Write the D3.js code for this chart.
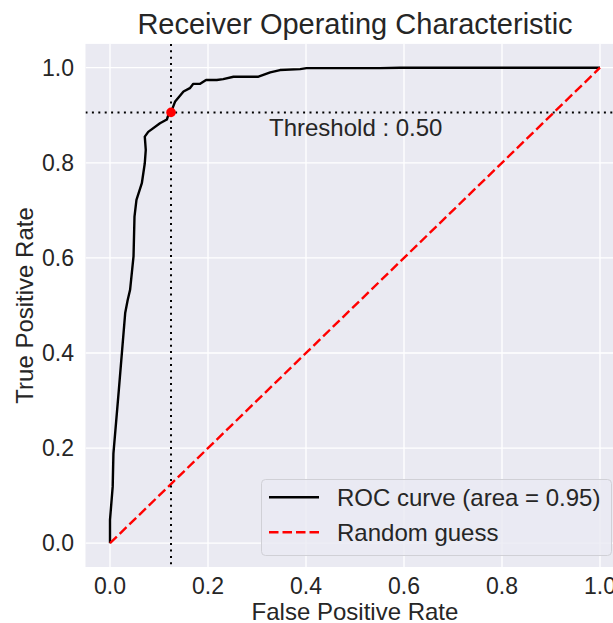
<!DOCTYPE html>
<html>
<head>
<meta charset="utf-8">
<script src="https://cdn.jsdelivr.net/npm/d3@7"></script>
<style>
  html, body { margin: 0; padding: 0; background: #fff; }
  svg { display: block; font-family: "Liberation Sans", Arial, sans-serif; }
</style>
</head>
<body>
<div id="chart"></div>
<script>
// ROC curve points
const fprValues = [0, 0, 0.0055, 0.007, 0.018, 0.031, 0.036, 0.041, 0.048, 0.050, 0.054, 0.065, 0.071, 0.073, 0.071,
  0.078, 0.102, 0.116, 0.119, 0.1245, 0.133, 0.150, 0.163, 0.170, 0.184, 0.196, 0.218, 0.231, 0.252, 0.303,
  0.327, 0.347, 0.388, 0.401, 0.551, 0.592, 0.80, 1.0];
const tprValues = [0, 0.049, 0.119, 0.189, 0.322, 0.484, 0.511, 0.533, 0.603, 0.687, 0.722, 0.757, 0.799, 0.827, 0.855,
  0.865, 0.883, 0.891, 0.900, 0.906, 0.929, 0.950, 0.957, 0.966, 0.966, 0.974, 0.974, 0.976, 0.981, 0.981,
  0.990, 0.995, 0.997, 0.999, 0.999, 1.0, 1.0, 1.0];
const randomX = [0, 1];
const randomY = [0, 1];
const thresholdPoint = [0.1245, 0.906];
const thresholdLabel = "Threshold : 0.50";
const xTicks = [0, 0.2, 0.4, 0.6, 0.8, 1.0];
const yTicks = [0, 0.2, 0.4, 0.6, 0.8, 1.0];
const seriesNames = ["ROC curve (area = 0.95)", "Random guess"];

const width = 613, height = 623;
const svg = d3.select("#chart").append("svg")
  .attr("width", width).attr("height", height);

const x = d3.scaleLinear().domain([-0.05, 1.05]).range([85.5, 624.5]);
const y = d3.scaleLinear().domain([-0.05, 1.05]).range([567, 43.9]);

svg.append("defs").append("clipPath").attr("id", "plotClip")
  .append("rect").attr("x", x(-0.05)).attr("y", y(1.05))
  .attr("width", x(1.05) - x(-0.05)).attr("height", y(-0.05) - y(1.05));

// background + grid
svg.append("rect")
  .attr("x", x(-0.05)).attr("y", y(1.05))
  .attr("width", x(1.05) - x(-0.05)).attr("height", y(-0.05) - y(1.05))
  .attr("fill", "#eaeaf2");

const grid = svg.append("g").attr("clip-path", "url(#plotClip)");
grid.selectAll(".vg").data(xTicks).enter().append("line")
  .attr("x1", d => x(d)).attr("x2", d => x(d))
  .attr("y1", y(1.05)).attr("y2", y(-0.05))
  .attr("stroke", "#fff").attr("stroke-width", 1.3);
grid.selectAll(".hg").data(yTicks).enter().append("line")
  .attr("y1", d => y(d)).attr("y2", d => y(d))
  .attr("x1", x(-0.05)).attr("x2", x(1.05))
  .attr("stroke", "#fff").attr("stroke-width", 1.3);

// tick labels
svg.append("g").selectAll("text").data(xTicks).enter().append("text")
  .attr("x", d => x(d)).attr("y", 594)
  .attr("text-anchor", "middle").attr("font-size", 23).attr("fill", "#262626")
  .text(d => d3.format(".1f")(d));
svg.append("g").selectAll("text").data(yTicks).enter().append("text")
  .attr("x", 74).attr("y", d => y(d) + 8.2)
  .attr("text-anchor", "end").attr("font-size", 23).attr("fill", "#262626")
  .text(d => d3.format(".1f")(d));

// axis labels + title
svg.append("text").attr("x", x(0.5)).attr("y", 620)
  .attr("text-anchor", "middle").attr("font-size", 24).attr("fill", "#262626")
  .text("False Positive Rate");
svg.append("text").attr("transform", `translate(33,${(y(-0.05) + y(1.05)) / 2}) rotate(-90)`)
  .attr("text-anchor", "middle").attr("font-size", 24).attr("fill", "#262626")
  .text("True Positive Rate");
svg.append("text").attr("x", x(0.5)).attr("y", 34)
  .attr("text-anchor", "middle").attr("font-size", 29).attr("fill", "#262626")
  .text("Receiver Operating Characteristic");

const plot = svg.append("g").attr("clip-path", "url(#plotClip)");

const line = d3.line().x(d => x(d[0])).y(d => y(d[1]));

// ROC curve
plot.append("path")
  .datum(d3.zip(fprValues, tprValues))
  .attr("d", line).attr("fill", "none")
  .attr("stroke", "#000").attr("stroke-width", 2.4).attr("stroke-linejoin", "round");

// random guess
plot.append("path")
  .datum(d3.zip(randomX, randomY))
  .attr("d", line).attr("fill", "none")
  .attr("stroke", "#ff0000").attr("stroke-width", 2.4).attr("stroke-dasharray", "9.5,4");

// threshold guides
plot.append("line")
  .attr("x1", x(thresholdPoint[0])).attr("x2", x(thresholdPoint[0]))
  .attr("y1", y(1.05)).attr("y2", y(-0.05))
  .attr("stroke", "#000").attr("stroke-width", 2).attr("stroke-dasharray", "2,4.4");
plot.append("line")
  .attr("y1", y(thresholdPoint[1])).attr("y2", y(thresholdPoint[1]))
  .attr("x1", x(-0.05)).attr("x2", x(1.05))
  .attr("stroke", "#000").attr("stroke-width", 2).attr("stroke-dasharray", "2,4.4");
plot.append("circle")
  .attr("cx", x(thresholdPoint[0])).attr("cy", y(thresholdPoint[1]))
  .attr("r", 4.8).attr("fill", "#ff0000");

svg.append("text")
  .attr("x", 269).attr("y", y(thresholdPoint[1]) + 24)
  .attr("font-size", 24).attr("fill", "#262626")
  .text(thresholdLabel);

// legend
const legend = svg.append("g");
legend.append("rect")
  .attr("x", 261.5).attr("y", 479.5).attr("width", 350).attr("height", 76)
  .attr("rx", 4).attr("fill", "#eaeaf2").attr("fill-opacity", 0.8)
  .attr("stroke", "#d0d0d6").attr("stroke-width", 1);
const legendStyles = [
  { color: "#000", dash: null },
  { color: "#ff0000", dash: "9.5,4" }
];
seriesNames.forEach((name, i) => {
  const ly = 497.3 + i * 35;
  legend.append("line")
    .attr("x1", 269).attr("x2", 319).attr("y1", ly).attr("y2", ly)
    .attr("stroke", legendStyles[i].color).attr("stroke-width", 2.4)
    .attr("stroke-dasharray", legendStyles[i].dash);
  legend.append("text")
    .attr("x", 337).attr("y", ly + 8.6)
    .attr("font-size", 24).attr("fill", "#262626")
    .text(name);
});
</script>
</body>
</html>
